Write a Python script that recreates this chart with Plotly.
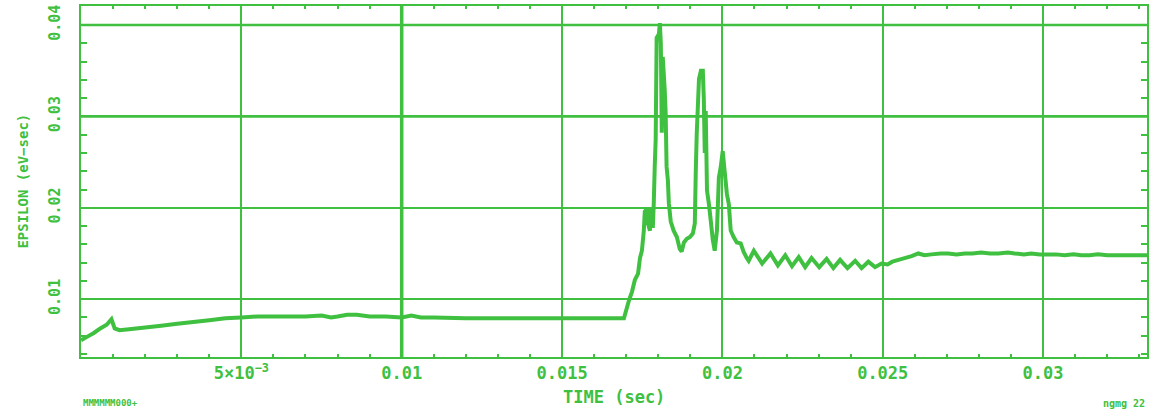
import plotly.graph_objects as go

GREEN = "#40c040"

# Emittance vs. time, read in segments along the cycle
t_ramp = [0.0, 0.0002, 0.0004, 0.0006, 0.0008, 0.00095, 0.00105, 0.0012, 0.0015, 0.002,
          0.0025, 0.003, 0.0035, 0.004, 0.0045, 0.005, 0.0055, 0.006, 0.0065, 0.007,
          0.0075, 0.0078, 0.008, 0.0083, 0.0086, 0.009, 0.0095, 0.01, 0.0103, 0.0106,
          0.011, 0.012, 0.013, 0.014, 0.015, 0.016, 0.0166]
eps_ramp = [0.0055, 0.0059, 0.0063, 0.0068, 0.0072, 0.0078, 0.0068, 0.0066, 0.0067, 0.0069,
            0.0071, 0.0073, 0.0075, 0.0077, 0.0079, 0.0080, 0.0081, 0.0081, 0.0081, 0.0081,
            0.0082, 0.0080, 0.0081, 0.0083, 0.0083, 0.0081, 0.0081, 0.0080, 0.0082, 0.0080,
            0.0080, 0.0079, 0.0079, 0.0079, 0.0079, 0.0079, 0.0079]

t_peaks = [0.01693, 0.01709, 0.01718, 0.01727, 0.01737, 0.01743, 0.01749, 0.01755, 0.01758,
           0.01765, 0.01768, 0.01774, 0.01777, 0.01783, 0.01786, 0.01789, 0.01792, 0.01795,
           0.01802, 0.01805, 0.01808, 0.01811, 0.01814, 0.01820, 0.01823, 0.01826, 0.01830,
           0.01833, 0.01839, 0.01848, 0.01858, 0.01867, 0.01873, 0.01880, 0.01889, 0.01899,
           0.01908, 0.01914, 0.01917, 0.01920, 0.01927, 0.01933, 0.01939, 0.01942, 0.01945,
           0.01948, 0.01952, 0.01958, 0.01964, 0.01970, 0.01976, 0.01983, 0.01989, 0.01995,
           0.02001, 0.02007, 0.02014, 0.02020, 0.02026, 0.02035, 0.02045, 0.02057, 0.02066,
           0.02076, 0.02082]
eps_peaks = [0.0079, 0.0099, 0.0108, 0.0121, 0.0128, 0.0145, 0.0153, 0.0175, 0.0196,
             0.0199, 0.0183, 0.0175, 0.0199, 0.0178, 0.0205, 0.0245, 0.0275, 0.0386,
             0.0390, 0.0402, 0.0380, 0.0282, 0.0365, 0.0330, 0.0305, 0.0245, 0.0230,
             0.0205, 0.0185, 0.0175, 0.0168, 0.0155, 0.0152, 0.0162, 0.0166, 0.0168,
             0.0172, 0.0183, 0.0240, 0.0281, 0.0341, 0.0350, 0.0350, 0.0320, 0.0260,
             0.0306, 0.0219, 0.0204, 0.0185, 0.0165, 0.0153, 0.0175, 0.0233, 0.0245,
             0.0262, 0.0240, 0.0215, 0.0204, 0.0175, 0.0168, 0.0162, 0.0161, 0.0152,
             0.0145, 0.0142]

t_ripple = [0.02098, 0.02124, 0.02150, 0.02173, 0.02196, 0.02217, 0.02238, 0.02258, 0.02278,
            0.02302, 0.02325, 0.02346, 0.02367, 0.02390, 0.02414, 0.02434, 0.02455, 0.02476,
            0.02496, 0.02515]
eps_ripple = [0.0153, 0.0139, 0.0150, 0.0137, 0.0148, 0.0136, 0.0146, 0.0135, 0.0145,
              0.0135, 0.0144, 0.0134, 0.0143, 0.0134, 0.0142, 0.0134, 0.0141, 0.0135,
              0.0139, 0.0138]

t_tail = [0.02530, 0.02560, 0.02590, 0.02611, 0.02630, 0.02652, 0.02680, 0.02704, 0.02730,
          0.02756, 0.02780, 0.02807, 0.02835, 0.02860, 0.02890, 0.02912, 0.02940, 0.02963,
          0.02990, 0.03016, 0.03040, 0.03067, 0.03095, 0.03119, 0.03145, 0.03171, 0.03200,
          0.03223, 0.03260, 0.03290, 0.03324]
eps_tail = [0.0141, 0.0144, 0.0147, 0.0150, 0.0148, 0.0149, 0.0150, 0.0150, 0.0149,
            0.0150, 0.0150, 0.0151, 0.0150, 0.0150, 0.0151, 0.0150, 0.0149, 0.0150,
            0.0149, 0.0149, 0.0149, 0.0148, 0.0149, 0.0148, 0.0148, 0.0149, 0.0148,
            0.0148, 0.0148, 0.0148, 0.0148]

x_ticks = [0.005, 0.01, 0.015, 0.02, 0.025, 0.03]
x_tick_text = ["5\u00d710<sup>\u22123</sup>", "0.01", "0.015", "0.02", "0.025", "0.03"]
y_ticks = [0.01, 0.02, 0.03, 0.04]
y_tick_text = ["0.01", "0.02", "0.03", "0.04"]

time = t_ramp + t_peaks + t_ripple + t_tail
eps = eps_ramp + eps_peaks + eps_ripple + eps_tail

FONT = "DejaVu Sans Mono"

fig = go.Figure()
fig.add_trace(go.Scatter(x=time, y=eps, mode="lines",
                         line=dict(color=GREEN, width=4, simplify=False),
                         showlegend=False))

# heavier grid lines at selected ticks
fig.add_shape(type="line", xref="x", yref="paper", x0=x_ticks[1], x1=x_ticks[1], y0=0, y1=1,
              line=dict(color=GREEN, width=3.5), layer="below")
for v in y_ticks[2:]:
    fig.add_shape(type="line", xref="paper", yref="y", x0=0, x1=1, y0=v, y1=v,
                  line=dict(color=GREEN, width=2.5), layer="below")

fig.update_layout(
    width=1153, height=413,
    margin=dict(l=81, r=4, t=5, b=56),
    paper_bgcolor="white", plot_bgcolor="white",
    font=dict(family=FONT, color=GREEN),
    xaxis=dict(range=[0, 0.03324], tickvals=x_ticks, ticktext=x_tick_text,
               showgrid=True, gridcolor=GREEN, gridwidth=2,
               showline=True, linecolor=GREEN, linewidth=2, mirror="ticks",
               ticks="inside", ticklen=3, tickcolor=GREEN, tickwidth=2,
               minor=dict(dtick=0.001, ticks="inside", ticklen=3, tickcolor=GREEN,
                          tickwidth=2, showgrid=False),
               tickfont=dict(size=17, color=GREEN, family=FONT, weight="bold"),
               zeroline=False),
    yaxis=dict(range=[0.00367, 0.04208], tickvals=y_ticks, ticktext=y_tick_text,
               showgrid=True, gridcolor=GREEN, gridwidth=1.5,
               showline=True, linecolor=GREEN, linewidth=2, mirror="ticks",
               ticks="inside", ticklen=6, tickcolor=GREEN, tickwidth=2,
               minor=dict(dtick=0.002, ticks="inside", ticklen=6, tickcolor=GREEN,
                          tickwidth=2, showgrid=False),
               tickangle=-90, ticklabelstandoff=13,
               tickfont=dict(size=15, color=GREEN, family=FONT, weight="bold"),
               zeroline=False),
    annotations=[
        dict(text="EPSILON (eV\u2212sec)", xref="paper", yref="paper",
             x=(22 - 81) / 1068, y=0.5, xanchor="center", yanchor="middle",
             textangle=-90, showarrow=False,
             font=dict(size=14, color=GREEN, family=FONT, weight="bold")),
        dict(text="TIME (sec)", xref="paper", yref="paper",
             x=0.5, y=(357 - 397) / 352, xanchor="center", yanchor="middle",
             showarrow=False, font=dict(size=17, color=GREEN, family=FONT, weight="bold")),
        dict(text="MMMMMM000+", xref="paper", yref="paper",
             x=0, y=(357 - 403) / 352, xanchor="left", yanchor="middle",
             showarrow=False, font=dict(size=9, color=GREEN, family=FONT, weight="bold")),
        dict(text="ngmg 22", xref="paper", yref="paper",
             x=1, y=(357 - 404) / 352, xanchor="right", yanchor="middle",
             showarrow=False, font=dict(size=10, color=GREEN, family=FONT, weight="bold")),
    ],
)

fig.write_html("out.html")
